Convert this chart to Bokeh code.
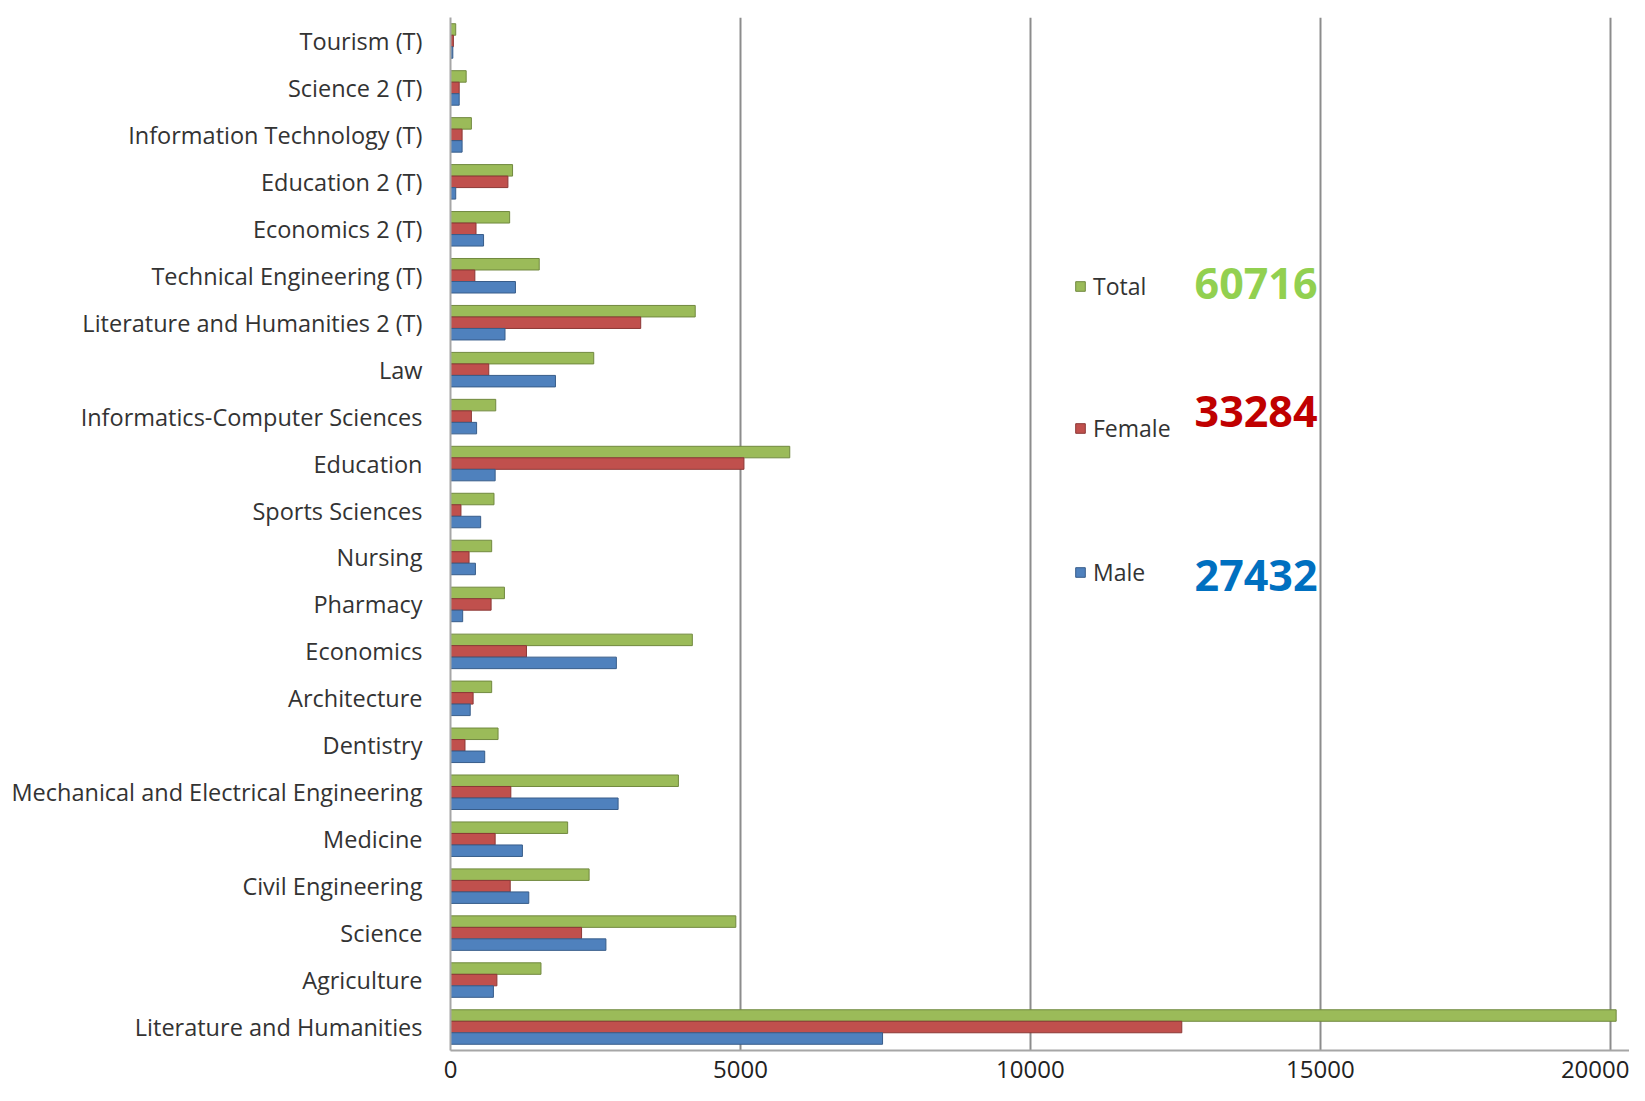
from bokeh.plotting import figure
from bokeh.models import FactorRange, Range1d, Label, Legend, LegendItem, FixedTicker, ColumnDataSource
from bokeh.transform import dodge
from bokeh.embed import file_html
from bokeh.resources import INLINE

# categories, top to bottom as in the picture
categories = [
    "Tourism (T)", "Science 2 (T)", "Information Technology (T)", "Education 2 (T)",
    "Economics 2 (T)", "Technical Engineering (T)", "Literature and Humanities 2 (T)",
    "Law", "Informatics-Computer Sciences", "Education", "Sports Sciences", "Nursing",
    "Pharmacy", "Economics", "Architecture", "Dentistry",
    "Mechanical and Electrical Engineering", "Medicine", "Civil Engineering",
    "Science", "Agriculture", "Literature and Humanities",
]
total = [90, 270, 360, 1070, 1020, 1530, 4220, 2470, 780, 5850, 750, 710,
         930, 4170, 710, 820, 3930, 2020, 2390, 4920, 1560, 20100]
female = [50, 150, 200, 990, 440, 420, 3280, 660, 360, 5060, 180, 320,
          700, 1310, 390, 250, 1040, 770, 1030, 2260, 800, 12610]
male = [40, 150, 200, 90, 570, 1120, 940, 1810, 450, 770, 520, 430,
        210, 2860, 340, 590, 2890, 1240, 1350, 2680, 740, 7450]
x_ticks = [0, 5000, 10000, 15000, 20000]
totals_text = ["60716", "33284", "27432"]
series_names = ["Total", "Female", "Male"]

factors = list(reversed(categories))
src = ColumnDataSource(dict(cat=categories, total=total, female=female, male=male))

FONT = "Open Sans"
p = figure(width=1629, height=1085, output_backend="svg", toolbar_location=None,
           y_range=FactorRange(factors=factors), x_range=Range1d(0, 20330),
           min_border_left=450, min_border_right=0, min_border_top=17, min_border_bottom=35)
p.outline_line_color = None
p.background_fill_color = "white"

h = 0.245
rg = p.hbar(y=dodge("cat", h, range=p.y_range), left=0, right="total", height=h, source=src,
            fill_color="#9BBB59", line_color="#71893F", line_width=1)
rr = p.hbar(y=dodge("cat", 0, range=p.y_range), left=0, right="female", height=h, source=src,
            fill_color="#C0504D", line_color="#8C3836", line_width=1)
rb = p.hbar(y=dodge("cat", -h, range=p.y_range), left=0, right="male", height=h, source=src,
            fill_color="#4F81BD", line_color="#385D8A", line_width=1)

# axes
p.yaxis.major_label_text_font = FONT
p.yaxis.major_label_text_font_size = "23.5px"
p.yaxis.major_label_text_color = "#333333"
p.yaxis.major_label_standoff = 22
p.yaxis.major_tick_line_color = None
p.yaxis.axis_line_color = "#a6a6a6"
p.yaxis.axis_line_width = 2

p.xaxis.ticker = FixedTicker(ticks=x_ticks)
p.xaxis.major_label_text_font = FONT
p.xaxis.major_label_text_font_size = "24px"
p.xaxis.major_label_text_color = "#222222"
p.xaxis.major_label_standoff = 4
p.xaxis.major_tick_line_color = None
p.xaxis.minor_tick_line_color = None
p.xaxis.axis_line_color = "#a6a6a6"
p.xaxis.axis_line_width = 2

p.xgrid.ticker = FixedTicker(ticks=x_ticks[1:])
p.xgrid.grid_line_color = "#8c8c8c"
p.xgrid.grid_line_width = 2
p.ygrid.grid_line_color = None

# one legend per series, so each entry can sit at its own height
legend_y = [748, 606, 462]
for name, r, ly in zip(series_names, [rg, rr, rb], legend_y):
    lg = Legend(items=[LegendItem(label=name, renderers=[r])],
                location=(624, ly), orientation="vertical",
                glyph_width=12, glyph_height=12, label_height=30,
                spacing=0, padding=0, margin=0,
                label_text_font=FONT, label_text_font_size="23px",
                label_text_color="#333333", label_standoff=7,
                border_line_color=None, background_fill_alpha=0)
    p.add_layout(lg, "center")

num_colors = ["#92D050", "#C00000", "#0070C0"]
num_y = [767, 639, 475]
for t, c, yy in zip(totals_text, num_colors, num_y):
    p.add_layout(Label(x=867, y=yy, x_units="screen", y_units="screen", text=t,
                       text_font=FONT, text_font_style="bold", text_font_size="43px",
                       text_color=c, text_baseline="middle", text_align="right"))

open("out.html", "w").write(file_html(p, INLINE))
